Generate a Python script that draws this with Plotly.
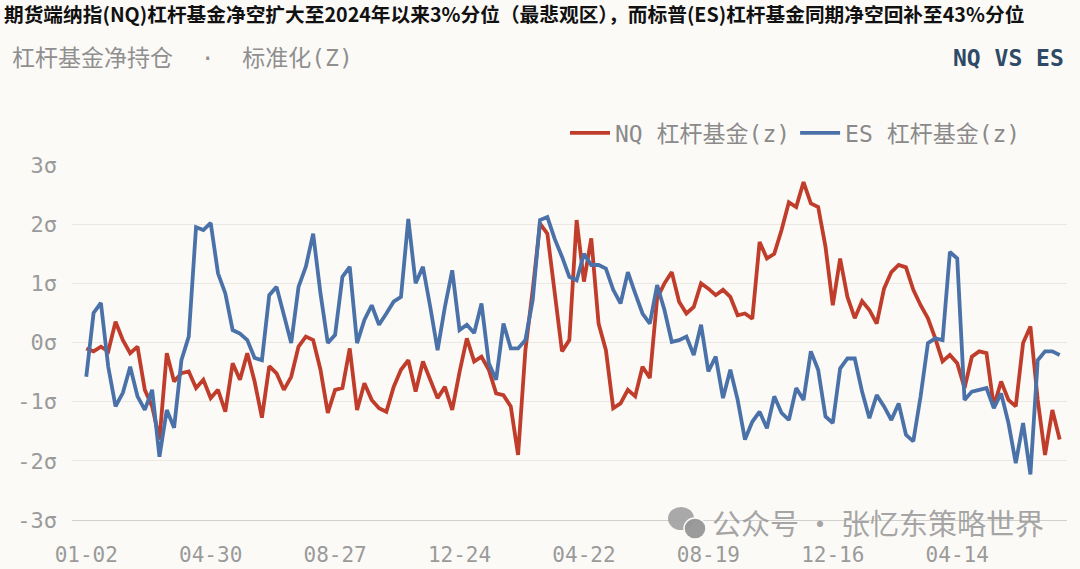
import pandas as pd
import plotly.graph_objects as go

# ---- data (weekly, z-score) ----
START_DATE = "2024-01-02"
NQ_Z = [-0.1, -0.15, -0.07, -0.15, 0.35, 0.04, -0.18, -0.07, -0.8, -1.08,
        -1.64, -0.18, -0.66, -0.52, -0.49, -0.77, -0.63, -0.94, -0.8, -1.17,
        -0.35, -0.63, -0.18, -0.66, -1.27, -0.4, -0.52, -0.8, -0.58, -0.07,
        0.1, 0.04, -0.46, -1.19, -0.8, -0.77, -0.1, -1.14, -0.69, -0.97,
        -1.11, -1.17, -0.75, -0.46, -0.3, -0.83, -0.32, -0.63, -0.94, -0.75,
        -1.14, -0.5, 0.07, -0.32, -0.24, -0.46, -0.86, -0.89, -1.08, -1.9,
        -0.13, 0.89, 2.01, 1.84, 0.9, -0.15, 0.04, 2.07, 1.03, 1.76,
        0.32, -0.13, -1.11, -1.03, -0.8, -0.91, -0.41, -0.6, 0.75, 1.0,
        1.19, 0.69, 0.49, 0.6, 1.0, 0.91, 0.8, 0.89, 0.77, 0.46,
        0.49, 0.4, 1.7, 1.42, 1.5, 1.9, 2.37, 2.29, 2.71, 2.35,
        2.29, 1.62, 0.63, 1.42, 0.77, 0.41, 0.7, 0.55, 0.32, 0.91,
        1.19, 1.31, 1.27, 0.89, 0.63, 0.41, 0.07, -0.32, -0.21, -0.35,
        -0.77, -0.24, -0.15, -0.18, -1.08, -0.66, -0.97, -1.08, -0.01, 0.27,
        -0.97, -1.9, -1.14, -1.64]
ES_Z = [-0.58, 0.5, 0.67, -0.41, -1.08, -0.85, -0.41, -0.91, -1.14, -0.8,
        -1.93, -1.14, -1.44, -0.3, 0.1, 1.95, 1.9, 2.02, 1.17, 0.83,
        0.21, 0.15, 0.04, -0.26, -0.3, 0.8, 0.94, 0.44, -0.01, 0.94,
        1.28, 1.84, 0.83, -0.01, 0.13, 1.11, 1.28, -0.01, 0.38, 0.63,
        0.3, 0.49, 0.69, 0.77, 2.09, 1.0, 1.28, 0.6, -0.13, 0.6,
        1.22, 0.21, 0.3, 0.16, 0.66, -0.35, -0.63, 0.32, -0.1, -0.1,
        0.04, 0.72, 2.07, 2.12, 1.75, 1.45, 1.11, 1.05, 1.5, 1.31,
        1.31, 1.25, 0.89, 0.66, 1.19, 0.83, 0.49, 0.32, 0.97, 0.55,
        0.01, 0.04, 0.1, -0.21, 0.3, -0.49, -0.24, -0.94, -0.46, -0.97,
        -1.64, -1.34, -1.17, -1.45, -0.91, -1.19, -1.31, -0.77, -0.97, -0.15,
        -0.46, -1.25, -1.36, -0.44, -0.27, -0.27, -0.83, -1.28, -0.89, -1.08,
        -1.31, -1.03, -1.56, -1.67, -0.91, -0.01, 0.07, 0.04, 1.53, 1.42,
        -0.97, -0.83, -0.8, -0.77, -1.11, -0.86, -1.36, -2.04, -1.36, -2.23,
        -0.3, -0.15, -0.15, -0.21]
X_TICK_DATES = ["2024-01-02", "2024-04-30", "2024-08-27", "2024-12-24",
                "2025-04-22", "2025-08-19", "2025-12-16", "2026-04-14"]
X_TICK_TEXT = ["01-02", "04-30", "08-27", "12-24", "04-22", "08-19", "12-16", "04-14"]
Y_TICK_VALS = [3, 2, 1, 0, -1, -2, -3]
Y_TICK_TEXT = ["3σ", "2σ", "1σ", "0σ", "-1σ", "-2σ", "-3σ"]
SERIES_NAMES = ["NQ 杠杆基金(z)", "ES 杠杆基金(z)"]

TITLE = "期货端纳指(NQ)杠杆基金净空扩大至2024年以来3%分位（最悲观区），而标普(ES)杠杆基金同期净空回补至43%分位"
SUBTITLE = "杠杆基金净持仓  ·  标准化(Z)"
TAG = "NQ VS ES"
WATERMARK = "公众号 · 张忆东策略世界"

dates = pd.date_range(START_DATE, periods=len(NQ_Z), freq="7D")

RED = "#bf3d2a"
BLUE = "#4a72a9"
BG = "#fcfaf7"
MONO = "DejaVu Sans Mono, Liberation Mono, monospace"
MONO_CJK = "DejaVu Sans Mono, Noto Sans CJK SC, monospace"
CJK = "Noto Sans CJK SC, Noto Sans, sans-serif"

W, H = 1080, 569
L, T = 72, 165
R = W - 1067
B = H - 520
PW, PH = W - L - R, H - T - B


def px_x(px):
    return (px - L) / PW


def px_y(py):
    return 1 + (T - py) / PH


fig = go.Figure()
fig.add_trace(go.Scatter(x=dates, y=NQ_Z, mode="lines", name=SERIES_NAMES[0],
                         line=dict(color=RED, width=3.8)))
fig.add_trace(go.Scatter(x=dates, y=ES_Z, mode="lines", name=SERIES_NAMES[1],
                         line=dict(color=BLUE, width=3.8)))

t0 = pd.Timestamp(START_DATE)
week = pd.Timedelta(days=7)
x_range = [t0 - 1.95 * week, t0 + 134.0 * week]

# WeChat-like icon next to the watermark (decoration only)
icon_shapes = [
    dict(type="circle", xref="paper", yref="paper", layer="above",
         x0=px_x(668), x1=px_x(694), y0=px_y(530), y1=px_y(507),
         fillcolor="rgba(160,160,160,0.9)", line=dict(width=0)),
    dict(type="circle", xref="paper", yref="paper", layer="above",
         x0=px_x(684), x1=px_x(706), y0=px_y(539), y1=px_y(518),
         fillcolor="rgba(150,150,150,0.95)", line=dict(color=BG, width=1.5)),
]

fig.update_layout(
    width=W, height=H,
    margin=dict(l=L, r=R, t=T, b=B, autoexpand=False),
    paper_bgcolor=BG,
    plot_bgcolor=BG,
    showlegend=True,
    legend=dict(orientation="h", x=px_x(565), xanchor="left", y=px_y(133), yanchor="middle",
                font=dict(family=MONO_CJK, size=23, color="#8a8a8a"),
                bgcolor="rgba(0,0,0,0)", itemwidth=40, traceorder="normal"),
    xaxis=dict(type="date", range=x_range, tickvals=X_TICK_DATES, ticktext=X_TICK_TEXT,
               automargin=False,
               showgrid=False, zeroline=False, showline=True, linecolor="#d2d0cc",
               linewidth=1.2, ticks="", ticklabelstandoff=16,
               tickfont=dict(family=MONO, size=21, color="#9a9a9a")),
    yaxis=dict(range=[-3, 3], tickvals=Y_TICK_VALS, ticktext=Y_TICK_TEXT,
               automargin=False,
               showgrid=True, gridcolor="#ebe8e4", gridwidth=1.2, zeroline=False,
               showline=False, ticks="", ticklabelstandoff=14,
               tickfont=dict(family=MONO, size=22, color="#9a9a9a")),
    shapes=icon_shapes,
    annotations=[
        dict(text="<b>" + TITLE + "</b>", xref="paper", yref="paper",
             x=px_x(2), y=px_y(13), xanchor="left", yanchor="middle", showarrow=False,
             font=dict(family=CJK, size=19.7, color="#111111")),
        dict(text=SUBTITLE, xref="paper", yref="paper",
             x=px_x(10), y=px_y(58), xanchor="left", yanchor="middle", showarrow=False,
             font=dict(family=MONO_CJK, size=23, color="#8f8f8f")),
        dict(text="<b>" + TAG + "</b>", xref="paper", yref="paper",
             x=px_x(1066), y=px_y(58), xanchor="right", yanchor="middle", showarrow=False,
             font=dict(family=MONO, size=23, color="#2e4a66")),
        dict(text=WATERMARK, xref="paper", yref="paper",
             x=px_x(1046), y=px_y(522), xanchor="right", yanchor="middle", showarrow=False,
             font=dict(family=CJK, size=29, color="rgba(150,150,150,0.85)")),
    ],
)

fig.write_html("out.html",
               config={"displayModeBar": False},
               post_script="document.body.style.margin='0';document.body.style.overflow='hidden';")
